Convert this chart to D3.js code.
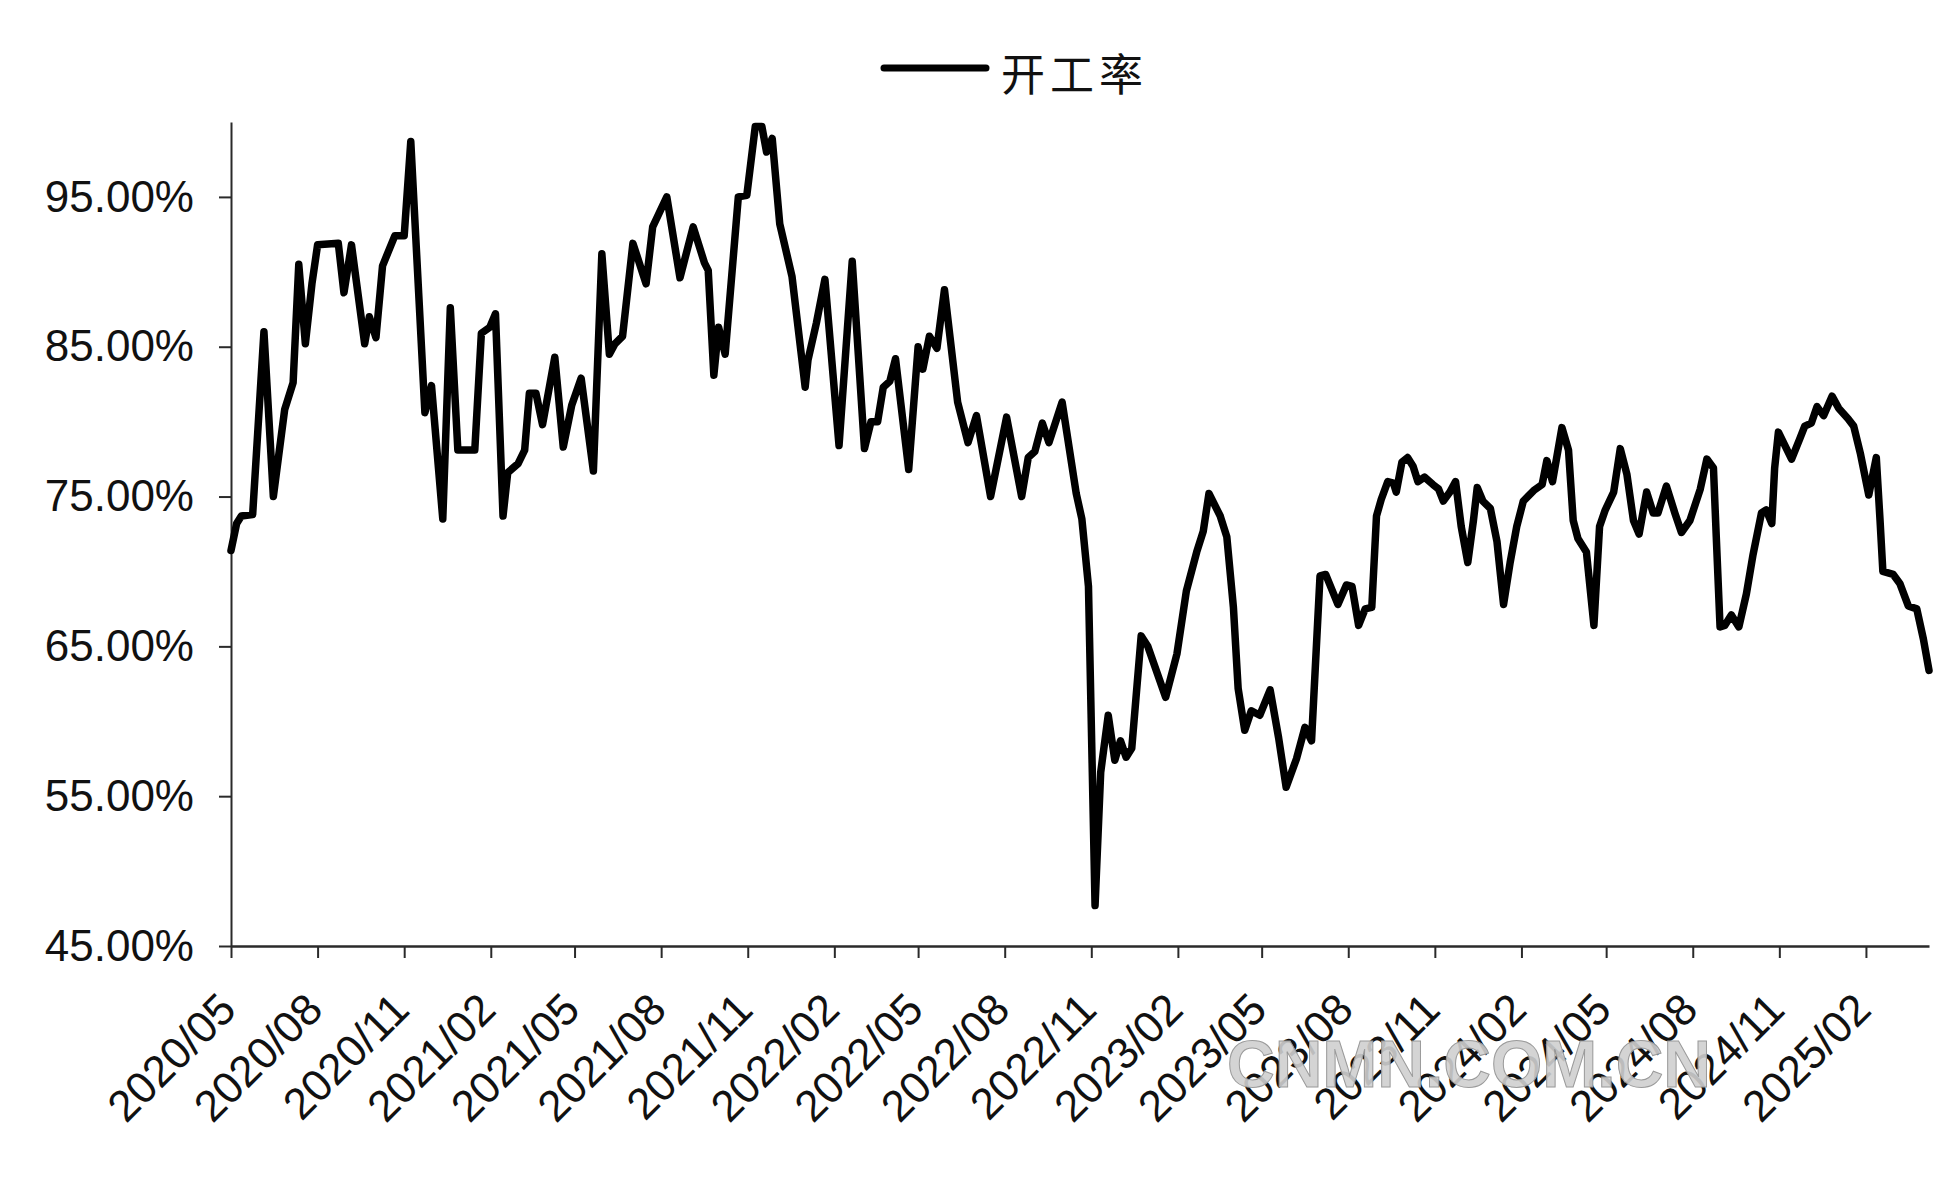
<!DOCTYPE html>
<html>
<head>
<meta charset="utf-8">
<script src="https://cdn.jsdelivr.net/npm/d3@7"></script>
<style>
  html, body { margin: 0; padding: 0; background: #ffffff; }
  svg { display: block; }
</style>
</head>
<body>
<svg id="chart" width="1958" height="1181"></svg>
<script>
// ---------------- data ----------------
const seriesName = "开工率";

const dates = [
  "2020-05-01","2020-05-07","2020-05-12","2020-05-24","2020-06-05","2020-06-15","2020-06-27","2020-07-06",
  "2020-07-12","2020-07-19","2020-07-26","2020-08-01","2020-08-23","2020-08-29","2020-09-06","2020-09-20",
  "2020-09-25","2020-10-02","2020-10-09","2020-10-22","2020-11-01","2020-11-08","2020-11-23","2020-11-30",
  "2020-12-12","2020-12-20","2020-12-28","2021-01-15","2021-01-22","2021-01-31","2021-02-06","2021-02-14",
  "2021-02-19","2021-03-02","2021-03-09","2021-03-14","2021-03-21","2021-03-28","2021-04-10","2021-04-19",
  "2021-04-28","2021-05-08","2021-05-21","2021-05-30","2021-06-07","2021-06-13","2021-06-21","2021-07-02",
  "2021-07-16","2021-07-23","2021-08-07","2021-08-21","2021-09-04","2021-09-16","2021-09-20","2021-09-26",
  "2021-10-01","2021-10-08","2021-10-22","2021-10-31","2021-11-09","2021-11-16","2021-11-21","2021-11-27",
  "2021-12-05","2021-12-18","2022-01-01","2022-01-04","2022-01-13","2022-01-22","2022-02-06","2022-02-20",
  "2022-03-05","2022-03-12","2022-03-19","2022-03-25","2022-04-01","2022-04-07","2022-04-21","2022-05-01",
  "2022-05-06","2022-05-13","2022-05-21","2022-05-29","2022-06-12","2022-06-23","2022-07-02","2022-07-17",
  "2022-08-03","2022-08-19","2022-08-26","2022-09-02","2022-09-10","2022-09-17","2022-10-01","2022-10-16",
  "2022-10-22","2022-10-29","2022-11-05","2022-11-11","2022-11-19","2022-11-26","2022-12-02","2022-12-08",
  "2022-12-14","2022-12-24","2022-12-31","2023-01-19","2023-01-31","2023-02-10","2023-02-21","2023-02-28",
  "2023-03-06","2023-03-18","2023-03-25","2023-04-01","2023-04-06","2023-04-13","2023-04-20","2023-04-29",
  "2023-05-10","2023-05-19","2023-05-27","2023-06-07","2023-06-16","2023-06-23","2023-07-02","2023-07-08",
  "2023-07-21","2023-07-30","2023-08-05","2023-08-12","2023-08-19","2023-08-26","2023-08-31","2023-09-05",
  "2023-09-12","2023-09-18","2023-09-21","2023-09-27","2023-10-03","2023-10-09","2023-10-14","2023-10-21",
  "2023-10-30","2023-11-05","2023-11-10","2023-11-17","2023-11-23","2023-11-29","2023-12-06","2023-12-12",
  "2023-12-16","2023-12-22","2023-12-30","2024-01-06","2024-01-13","2024-01-20","2024-01-27","2024-02-03",
  "2024-02-14","2024-02-23","2024-02-28","2024-03-05","2024-03-15","2024-03-22","2024-03-27","2024-04-01",
  "2024-04-10","2024-04-18","2024-04-24","2024-04-30","2024-05-09","2024-05-16","2024-05-23","2024-05-30",
  "2024-06-05","2024-06-13","2024-06-20","2024-06-25","2024-07-04","2024-07-13","2024-07-20","2024-07-29",
  "2024-08-09","2024-08-16","2024-08-23","2024-08-26","2024-08-30","2024-09-04","2024-09-11","2024-09-19",
  "2024-09-27","2024-10-04","2024-10-13","2024-10-18","2024-10-24","2024-10-27","2024-10-31","2024-11-07",
  "2024-11-14","2024-11-23","2024-11-28","2024-12-05","2024-12-11","2024-12-18","2024-12-27","2025-01-03",
  "2025-01-13","2025-01-19","2025-01-26","2025-02-04","2025-02-12","2025-02-16","2025-02-19","2025-03-02",
  "2025-03-09","2025-03-18","2025-03-27","2025-04-03","2025-04-09"
];

const values = [
  71.4,73.2,73.7,73.8,86.0,75.0,80.8,82.6,
  90.5,85.2,89.2,91.8,91.9,88.6,91.8,85.2,
  87.0,85.6,90.4,92.4,92.4,98.7,80.6,82.4,
  73.5,87.6,78.1,78.1,85.9,86.3,87.2,73.7,
  76.6,77.2,78.1,81.9,81.9,79.8,84.3,78.3,
  81.1,82.9,76.7,91.2,84.5,85.2,85.7,91.9,
  89.2,93.0,95.0,89.6,93.0,90.6,90.1,83.1,
  86.3,84.5,95.0,95.1,99.7,99.7,98.0,98.9,
  93.2,89.7,82.3,84.1,86.6,89.5,78.4,90.7,
  78.2,80.0,80.0,82.3,82.7,84.2,76.8,85.0,
  83.5,85.7,84.9,88.8,81.3,78.6,80.4,75.0,
  80.3,75.0,77.6,78.0,79.9,78.6,81.3,75.2,
  73.5,69.0,47.7,56.6,60.4,57.4,58.7,57.6,
  58.2,65.7,65.0,61.6,64.5,68.7,71.3,72.7,
  75.2,73.7,72.3,67.6,62.2,59.4,60.7,60.4,
  62.1,58.9,55.6,57.5,59.6,58.7,69.7,69.8,
  67.8,69.1,69.0,66.4,67.5,67.6,73.7,74.8,
  76.0,75.9,75.3,77.3,77.6,77.0,76.0,76.3,
  75.8,75.5,74.7,75.3,76.0,73.0,70.6,73.4,
  75.6,74.7,74.2,72.0,67.8,70.6,73.0,74.7,
  75.4,75.8,77.4,76.0,79.6,78.1,73.4,72.2,
  71.3,66.4,73.0,74.1,75.3,78.2,76.5,73.4,
  72.5,75.3,73.9,73.9,75.7,73.9,72.6,73.4,
  75.5,77.5,76.9,72.3,66.3,66.4,67.1,66.3,
  68.5,71.1,73.9,74.1,73.2,76.9,79.3,78.4,
  77.5,78.9,79.7,79.9,81.0,80.4,81.7,80.9,
  80.2,79.7,77.9,75.1,77.6,73.4,70.0,69.8,
  69.2,67.7,67.5,65.5,63.4
];

const xTickLabels = [
  "2020/05","2020/08","2020/11","2021/02","2021/05","2021/08","2021/11",
  "2022/02","2022/05","2022/08","2022/11","2023/02","2023/05","2023/08",
  "2023/11","2024/02","2024/05","2024/08","2024/11","2025/02"
];
const yTicks = [45, 55, 65, 75, 85, 95];
const yDomain = [45, 100];
const watermarkText = "CNMN.COM.CN";

// ---------------- chart ----------------
const parseDate = d3.timeParse("%Y-%m-%d");
const parseTick = d3.timeParse("%Y/%m");
const data = dates.map((d, i) => ({ date: parseDate(d), value: values[i] }));

const svg = d3.select("#chart");
const W = 1958, H = 1181;
const m = { left: 231, right: W - 1929, top: 122, bottom: H - 946 };

svg.append("rect").attr("width", W).attr("height", H).attr("fill", "#ffffff");

const x = d3.scaleTime()
  .domain([parseDate("2020-05-01"), data[data.length - 1].date])
  .range([m.left, W - m.right]);
const y = d3.scaleLinear().domain(yDomain).range([H - m.bottom, m.top]);

const labelFont = "'Liberation Sans', Arial, sans-serif";

// y axis
const gy = svg.append("g")
  .attr("transform", `translate(${m.left},0)`)
  .call(d3.axisLeft(y).tickValues(yTicks).tickSize(12).tickSizeOuter(0).tickPadding(25)
    .tickFormat(d => d.toFixed(2) + "%"));
gy.select(".domain").attr("stroke", "#2a2a2a").attr("stroke-width", 2);
gy.selectAll(".tick line").attr("stroke", "#2a2a2a").attr("stroke-width", 2);
gy.selectAll(".tick text")
  .attr("font-family", labelFont).attr("font-size", 44).attr("fill", "#111");

// x axis
const gx = svg.append("g")
  .attr("transform", `translate(0,${H - m.bottom})`)
  .call(d3.axisBottom(x).tickValues(xTickLabels.map(parseTick)).tickSize(12).tickSizeOuter(0)
    .tickFormat(d3.timeFormat("%Y/%m")));
gx.select(".domain").attr("stroke", "#2a2a2a").attr("stroke-width", 2.5);
gx.selectAll(".tick line").attr("stroke", "#2a2a2a").attr("stroke-width", 2);
gx.selectAll(".tick text")
  .attr("font-family", labelFont).attr("font-size", 44).attr("fill", "#111")
  .attr("text-anchor", "end")
  .attr("x", 0).attr("y", 0).attr("dy", "0.35em")
  .attr("transform", "translate(-4,55) rotate(-45)");

// line
const line = d3.line().x(d => x(d.date)).y(d => y(d.value));
svg.append("path")
  .datum(data)
  .attr("fill", "none")
  .attr("stroke", "#000")
  .attr("stroke-width", 7.5)
  .attr("stroke-linejoin", "round")
  .attr("stroke-linecap", "round")
  .attr("d", line);

// legend
const lg = svg.append("g");
lg.append("line")
  .attr("x1", 884).attr("x2", 986).attr("y1", 68).attr("y2", 68)
  .attr("stroke", "#000").attr("stroke-width", 7).attr("stroke-linecap", "round");
lg.append("text")
  .attr("x", 1001).attr("y", 72)
  .attr("dominant-baseline", "central")
  .attr("font-family", "'Noto Sans CJK SC', sans-serif")
  .attr("font-size", 44).attr("letter-spacing", 5).attr("fill", "#111")
  .text(seriesName);

// watermark
svg.append("text")
  .attr("x", 1469).attr("y", 1087)
  .attr("text-anchor", "middle")
  .attr("font-family", labelFont).attr("font-weight", "bold").attr("font-size", 66)
  .attr("fill", "#cfcfcf").attr("fill-opacity", 0.9)
  .attr("stroke", "#9a9a9a").attr("stroke-width", 1)
  .text(watermarkText);
</script>
</body>
</html>
